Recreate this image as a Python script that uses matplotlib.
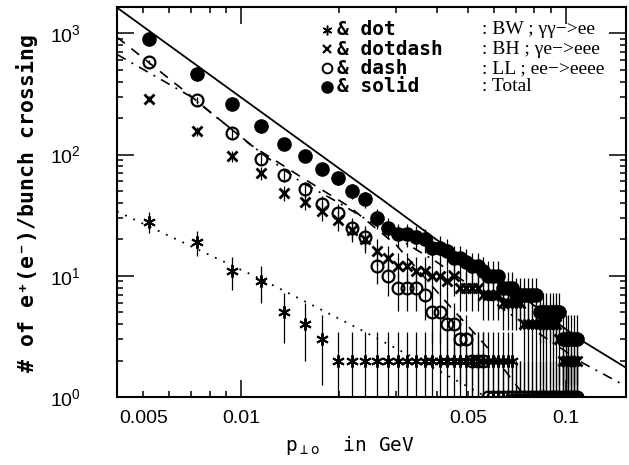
import numpy as np
import matplotlib
matplotlib.use("Agg")
import matplotlib.pyplot as plt
from matplotlib.ticker import FixedLocator, FixedFormatter, LogLocator, NullFormatter

plt.rcParams["font.family"] = ["Liberation Sans", "DejaVu Sans"]
plt.rcParams["mathtext.default"] = "regular"

# bin centres of p_perp (GeV)
p_bins = [0.0052, 0.0073, 0.0094, 0.0115, 0.0136, 0.0157, 0.0178, 0.0199, 0.0220, 0.0241,
          0.0262, 0.0283, 0.0304, 0.0325, 0.0346, 0.0367, 0.0388, 0.0409, 0.0430, 0.0451,
          0.0472, 0.0493, 0.0514, 0.0535, 0.0556, 0.0577, 0.0598, 0.0619, 0.0640, 0.0661,
          0.0682, 0.0703, 0.0724, 0.0745, 0.0766, 0.0787, 0.0808, 0.0829, 0.0850, 0.0871,
          0.0892, 0.0913, 0.0934, 0.0955, 0.0976, 0.0997, 0.1018, 0.1039, 0.1060, 0.1081]

# counts per bunch crossing
total = [900, 460, 260, 172, 123, 98, 76, 64, 50, 43,
         30, 25, 22, 22, 21, 20, 17, 17, 16, 14,
         14, 13, 12, 12, 11, 10, 10, 10, 8, 8,
         8, 7, 7, 7, 7, 7, 7, 5, 5, 5,
         5, 5, 5, 5, 3, 3, 3, 3, 3, 3]
bh = [290, 155, 97, 70, 48, 41, 34, 29, 24, 20,
      16, 14, 12, 12, 11, 11, 10, 10, 9, 10,
      8, 8, 8, 8, 7, 7, 7, 7, 6, 6,
      6, 6, 6, 4, 4, 4, 4, 4, 4, 4,
      4, 4, 4, 3, 2, 2, 2, 2, 2, 2]
ll = [580, 280, 150, 92, 68, 52, 39, 33, 25, 21,
      12, 10, 8, 8, 8, 7, 5, 5, 4, 4,
      3, 3, 2, 2, 2, 1, 1, 1, 1, 1,
      1, 1, 1, 1, 1, 1, 1, 1, 1, 1,
      1, 1, 1, 1, 1, 1, 1, 1, 1, 1]
bw = [28, 19, 11, 9, 5, 4, 3, 2, 2, 2,
      2, 2, 2, 2, 2, 2, 2, 2, 2, 2,
      2, 2, 2, 2, 2, 2, 2, 2, 2, 2,
      2, 1, 1, 1, 1, 1, 1, 1, 1, 1,
      1, 1, 1, 1, 1, 1, 1, 1, 1, 1]

# fitted curves
total_fit_x = [0.00415, 0.0267, 0.040, 0.0673, 0.1089, 0.156]
total_fit_y = [1630, 44, 19.8, 8.0, 3.05, 1.69]
ll_fit_x = [0.00415, 0.0068, 0.01066, 0.0152, 0.0216, 0.030, 0.0418, 0.057, 0.075]
ll_fit_y = [930, 324, 121, 66, 37, 18, 6.5, 2.6, 1.0]
bh_fit_x = [0.00415, 0.00697, 0.0117, 0.0152, 0.020, 0.040, 0.070, 0.113, 0.160]
bh_fit_y = [670, 303, 100, 60, 40, 13, 4.5, 1.9, 1.15]
bw_fit_x = [0.00415, 0.0114, 0.0224, 0.041, 0.057]
bw_fit_y = [34, 9.5, 3.8, 1.62, 1.0]

fig = plt.figure(figsize=(6.29, 4.65), dpi=100)
ax = fig.add_axes([0.186, 0.1462, 0.8092, 0.8388])
ax.set_xscale("log")
ax.set_yscale("log", nonpositive="clip")

x = np.array(p_bins)
series = [
    (total, dict(marker="o", ms=9.5, mfc="k", mec="k")),
    (bh, dict(marker="x", ms=7.5, mew=2.0, mec="k")),
    (ll, dict(marker="o", ms=8.5, mfc="none", mec="k", mew=1.6)),
    (bw, dict(marker=(6, 2, 0), ms=9, mew=1.4, mec="k")),
]
for counts, style in series:
    y = np.array(counts, dtype=float)
    # Poisson errors
    ax.errorbar(x, y, yerr=np.sqrt(y), fmt="none", ecolor="k", elinewidth=0.9, capsize=0)
    ax.plot(x, y, linestyle="none", color="k", **style)

ax.plot(total_fit_x, total_fit_y, color="k", lw=1.3)
ax.plot(ll_fit_x, ll_fit_y, color="k", lw=1.2, linestyle=(0, (6, 5)))
ax.plot(bh_fit_x, bh_fit_y, color="k", lw=1.2, linestyle=(0, (6, 4, 1.2, 4)))
ax.plot(bw_fit_x, bw_fit_y, color="k", lw=1.3, linestyle=(0, (1, 4)))

ax.set_xlim(0.00415, 0.153)
ax.set_ylim(1, 1650)

ax.xaxis.set_major_locator(FixedLocator([0.01, 0.1]))
ax.xaxis.set_major_formatter(FixedFormatter(["0.01", "0.1"]))
minor_x = [0.005, 0.006, 0.007, 0.008, 0.009, 0.02, 0.03, 0.04, 0.05, 0.06, 0.07, 0.08, 0.09]
ax.xaxis.set_minor_locator(FixedLocator(minor_x))
ax.xaxis.set_minor_formatter(FixedFormatter(["0.005", "", "", "", "", "", "", "", "0.05", "", "", "", ""]))
ax.yaxis.set_minor_locator(LogLocator(base=10, subs=range(2, 10)))
ax.yaxis.set_minor_formatter(NullFormatter())

ax.tick_params(which="both", direction="in", top=True, right=True, width=1.1, labelsize=14)
ax.tick_params(which="major", length=12)
ax.tick_params(which="minor", length=4.5)
ax.tick_params(axis="x", which="both", pad=9)
ax.tick_params(axis="y", which="both", pad=26)
for s in ax.spines.values():
    s.set_linewidth(1.5)

fig.text(27 / 629, 1 - 203 / 465, "# of e\u207a(e\u207b)/bunch crossing", rotation=90,
         ha="center", va="center", family="DejaVu Sans Mono", fontweight="bold", fontsize=15.5)
fig.text(350 / 629, 1 - 445 / 465, r"p$_{\perp \mathrm{o}}$  in GeV", ha="center", va="center",
         family="DejaVu Sans Mono", fontsize=14)

# legend block
rows_y = [30, 49.5, 68.5, 87]
leg_markers = [dict(marker=(6, 2, 0), ms=7, mew=1.1), dict(marker="x", ms=6, mew=1.6),
               dict(marker="o", ms=7, mfc="none", mew=1.4), dict(marker="o", ms=8)]
leg_left = ["& dot", "& dotdash", "& dash", "& solid"]
leg_right = [": BW ; \u03b3\u03b3\u2212>ee", ": BH ; \u03b3e\u2212>eee", ": LL ; ee\u2212>eeee", ": Total"]
for py, mk, lt, rt in zip(rows_y, leg_markers, leg_left, leg_right):
    ya = (397 - py) / 390
    ax.plot([(327 - 117) / 509], [ya], transform=ax.transAxes, color="k", linestyle="none",
            clip_on=False, **mk)
    ax.text((337 - 117) / 509, ya, lt, transform=ax.transAxes, ha="left", va="center",
            family="DejaVu Sans Mono", fontweight="bold", fontsize=14)
    ax.text((482 - 117) / 509, ya, rt, transform=ax.transAxes, ha="left", va="center",
            family="Liberation Serif", fontsize=14)

fig.savefig("out.png", dpi=100)
